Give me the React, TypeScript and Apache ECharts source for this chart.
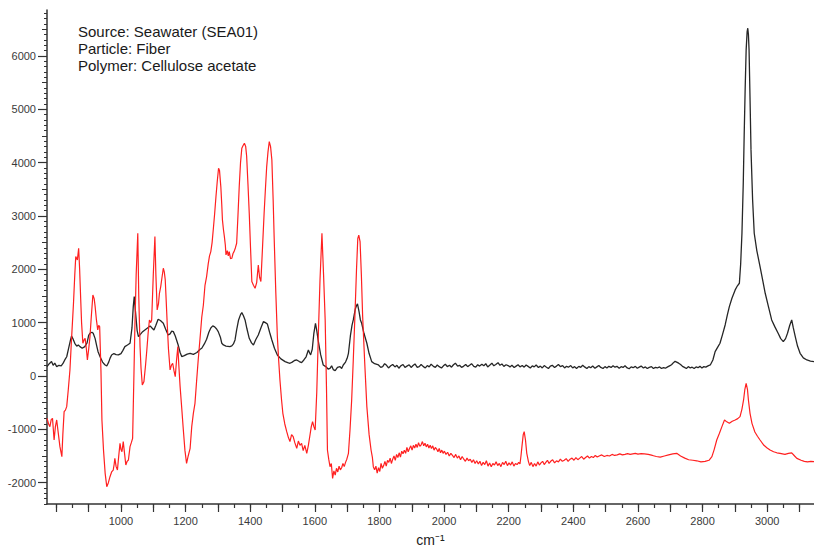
import React, { useEffect, useRef } from "react";
import * as echarts from "echarts";

// ---- Data ----
const annotationLines = [
  "Source: Seawater (SEA01)",
  "Particle: Fiber",
  "Polymer: Cellulose acetate",
];

const xAxisName = "cm\u207B\u00B9";
const xLabelValues = [1000, 1200, 1400, 1600, 1800, 2000, 2200, 2400, 2600, 2800, 3000];
const yLabelValues = [-2000, -1000, 0, 1000, 2000, 3000, 4000, 5000, 6000];

// black spectrum: [wavenumber, intensity]
const blackSpectrum: [number, number][] = [
  [771, 175], [778, 230], [785, 270], [790, 200], [795, 240], [801, 175], [808, 200], [815, 190],
  [821, 240], [826, 300], [832, 360], [838, 520], [844, 680], [847, 750], [851, 700], [857, 613],
  [863, 560], [868, 580], [873, 550], [880, 520], [888, 550], [895, 620], [900, 760], [904, 800],
  [910, 820], [914, 800], [920, 700], [925, 560], [929, 456], [936, 350], [943, 260], [950, 210],
  [956, 188], [962, 260], [966, 330], [971, 394], [978, 420], [985, 400], [992, 394], [1000, 420],
  [1006, 480], [1012, 550], [1020, 580], [1028, 613], [1034, 900], [1038, 1300], [1041, 1487],
  [1045, 1200], [1050, 850], [1054, 738], [1060, 780], [1067, 830], [1074, 863], [1082, 900],
  [1090, 938], [1096, 900], [1102, 863], [1108, 950], [1115, 1063], [1122, 1040], [1131, 988],
  [1138, 880], [1146, 769], [1152, 790], [1157, 840], [1162, 831], [1168, 750], [1177, 581],
  [1183, 440], [1188, 363], [1196, 380], [1205, 410], [1214, 425], [1224, 406], [1235, 440],
  [1245, 500], [1250, 519], [1258, 600], [1265, 688], [1272, 820], [1278, 900], [1284, 938],
  [1290, 920], [1296, 880], [1301, 831], [1308, 720], [1312, 613], [1317, 581], [1325, 560],
  [1337, 550], [1343, 563], [1348, 600], [1353, 675], [1358, 863], [1364, 1050], [1370, 1150],
  [1374, 1188], [1379, 1130], [1384, 1050], [1390, 880], [1397, 706], [1404, 620], [1410, 581],
  [1417, 680], [1425, 769], [1433, 900], [1441, 1019], [1447, 1000], [1453, 975], [1460, 820],
  [1467, 675], [1475, 520], [1484, 394], [1495, 320], [1508, 269], [1516, 250], [1523, 238],
  [1530, 260], [1537, 290], [1544, 300], [1552, 270], [1559, 250], [1566, 300], [1573, 360],
  [1580, 488], [1584, 430], [1587, 394], [1592, 500], [1597, 800], [1602, 988], [1606, 850],
  [1611, 644], [1618, 400], [1626, 206], [1635, 170], [1641, 130], [1647, 144], [1652, 190],
  [1657, 120], [1663, 100], [1670, 160], [1678, 175], [1683, 140], [1688, 206], [1695, 260],
  [1700, 330], [1704, 425], [1710, 750], [1715, 950], [1719, 1050], [1725, 1250], [1729, 1320],
  [1732, 1350], [1737, 1200], [1741, 1050], [1745, 988], [1752, 800], [1761, 613], [1768, 420],
  [1776, 269], [1785, 230], [1797, 206], [1804, 160], [1810, 175], [1816, 230], [1822, 200],
  [1828, 150], [1835, 190], [1841, 215], [1848, 170], [1854, 200], [1860, 145], [1866, 190],
  [1873, 215], [1879, 160], [1885, 185], [1892, 210], [1898, 160], [1904, 195], [1910, 225],
  [1917, 160], [1923, 175], [1929, 215], [1935, 180], [1942, 150], [1948, 195], [1954, 170],
  [1960, 220], [1967, 180], [1973, 160], [1979, 205], [1985, 175], [1992, 150], [1998, 190],
  [2004, 220], [2010, 175], [2017, 200], [2023, 165], [2029, 210], [2035, 240], [2042, 185],
  [2048, 200], [2054, 160], [2060, 180], [2067, 215], [2073, 175], [2079, 200], [2085, 230],
  [2092, 180], [2098, 165], [2104, 210], [2110, 185], [2117, 220], [2123, 190], [2129, 230],
  [2135, 170], [2142, 205], [2148, 240], [2154, 190], [2160, 215], [2167, 250], [2173, 200],
  [2179, 225], [2185, 180], [2192, 210], [2198, 195], [2204, 170], [2210, 200], [2217, 160],
  [2223, 185], [2229, 210], [2235, 170], [2242, 195], [2248, 165], [2254, 205], [2260, 180],
  [2267, 150], [2273, 190], [2279, 170], [2285, 205], [2292, 160], [2298, 185], [2304, 150],
  [2310, 195], [2317, 165], [2323, 140], [2329, 185], [2335, 200], [2342, 160], [2348, 185],
  [2354, 215], [2360, 175], [2367, 195], [2373, 150], [2379, 180], [2385, 165], [2392, 195],
  [2398, 150], [2404, 175], [2410, 140], [2417, 180], [2423, 160], [2429, 200], [2435, 170],
  [2442, 140], [2448, 175], [2454, 155], [2460, 185], [2467, 145], [2473, 170], [2479, 195],
  [2485, 160], [2492, 140], [2498, 175], [2504, 150], [2510, 180], [2517, 160], [2523, 190],
  [2529, 165], [2535, 180], [2542, 145], [2548, 175], [2554, 160], [2560, 190], [2567, 150],
  [2573, 135], [2579, 170], [2585, 155], [2592, 180], [2598, 145], [2604, 165], [2610, 185],
  [2617, 150], [2623, 170], [2629, 140], [2635, 160], [2642, 175], [2648, 140], [2654, 160],
  [2660, 150], [2667, 170], [2673, 140], [2679, 155], [2685, 145], [2692, 170], [2698, 190],
  [2704, 210], [2710, 250], [2715, 275], [2720, 260], [2726, 240], [2732, 215], [2738, 180],
  [2744, 160], [2750, 140], [2756, 175], [2762, 150], [2768, 165], [2774, 140], [2780, 170],
  [2786, 155], [2792, 180], [2798, 150], [2804, 175], [2810, 165], [2817, 190], [2824, 206],
  [2832, 300], [2839, 456], [2847, 540], [2854, 613], [2862, 780], [2870, 956], [2877, 1150],
  [2883, 1300], [2891, 1456], [2901, 1613], [2908, 1690], [2914, 1738], [2918, 2100], [2922, 2675],
  [2926, 3600], [2929, 4550], [2932, 5400], [2935, 6113], [2938, 6450], [2940, 6519], [2942, 6400],
  [2944, 6113], [2947, 5200], [2950, 4238], [2955, 3300], [2960, 2675], [2968, 2350], [2978, 2050],
  [2986, 1800], [2994, 1550], [3004, 1300], [3014, 1050], [3024, 920], [3034, 800], [3042, 700],
  [3050, 644], [3057, 700], [3063, 800], [3070, 950], [3076, 1050], [3081, 900], [3087, 738],
  [3094, 560], [3102, 425], [3112, 340], [3123, 300], [3134, 280], [3145, 269],
];

// red spectrum: [wavenumber, intensity]
const redSpectrum: [number, number][] = [
  [771, -794], [776, -900], [780, -950], [784, -820], [788, -794], [793, -1200], [797, -950],
  [801, -825], [806, -1075], [811, -1325], [817, -1513], [820, -1100], [824, -669], [828, -640],
  [832, -575], [837, -250], [842, 113], [847, 700], [853, 1363], [857, 1900], [860, 2238],
  [865, 2175], [869, 2394], [872, 2000], [875, 1488], [878, 1000], [882, 613], [886, 680],
  [889, 706], [893, 500], [896, 300], [900, 500], [904, 738], [908, 1100], [913, 1519],
  [917, 1450], [920, 1300], [924, 1050], [928, 863], [931, 950], [934, 925], [938, 100],
  [941, -825], [946, -1400], [951, -1825], [956, -2075], [961, -2000], [966, -1888], [971, -1800],
  [976, -1763], [979, -1650], [981, -1544], [985, -1700], [989, -1763], [993, -1500], [997, -1263],
  [1000, -1380], [1003, -1419], [1007, -1231], [1011, -1450], [1015, -1669], [1019, -1600],
  [1023, -1575], [1028, -1325], [1032, -1250], [1036, -1169], [1040, 0], [1043, 925], [1047, 1900],
  [1052, 2675], [1055, 1500], [1059, 550], [1062, 150], [1066, -169], [1071, -106], [1076, 200],
  [1080, 488], [1084, 800], [1088, 1050], [1092, 1000], [1095, 1050], [1100, 1900], [1105, 2613],
  [1108, 1900], [1112, 1238], [1116, 1350], [1119, 1550], [1123, 1675], [1127, 1850], [1131, 2019],
  [1134, 1950], [1137, 1800], [1140, 1400], [1143, 988], [1147, 500], [1152, 113], [1156, 200],
  [1160, 238], [1164, 100], [1168, -13], [1172, 300], [1176, 550], [1179, 200], [1183, -200],
  [1188, -600], [1193, -1013], [1198, -1400], [1203, -1638], [1208, -1500], [1214, -1356],
  [1219, -950], [1224, -700], [1229, -513], [1234, -100], [1239, 300], [1246, 800], [1250, 1100],
  [1255, 1331], [1260, 1700], [1265, 1863], [1270, 2100], [1274, 2250], [1278, 2331],
  [1282, 2500], [1286, 2769], [1290, 3050], [1294, 3363], [1298, 3650], [1302, 3894],
  [1305, 3850], [1309, 3550], [1312, 3200], [1314, 2925], [1317, 2750], [1320, 2613], [1323, 2450],
  [1325, 2269], [1329, 2350], [1332, 2250], [1335, 2331], [1339, 2200], [1343, 2206], [1347, 2300],
  [1350, 2331], [1354, 2400], [1358, 2488], [1362, 3000], [1366, 3550], [1370, 4000], [1374, 4269],
  [1378, 4320], [1382, 4363], [1386, 4300], [1389, 4113], [1393, 3600], [1397, 3050], [1401, 2400],
  [1405, 1769], [1410, 1700], [1415, 1644], [1420, 1750], [1425, 2081], [1429, 1850], [1433, 1769],
  [1438, 2400], [1443, 3050], [1447, 3500], [1451, 3925], [1455, 4200], [1459, 4394], [1463, 4300],
  [1467, 4050], [1471, 3300], [1474, 2613], [1479, 1600], [1484, 738], [1488, 300], [1492, -75],
  [1497, -450], [1501, -700], [1507, -900], [1513, -1044], [1518, -1150], [1523, -1231],
  [1528, -1100], [1533, -1138], [1538, -1250], [1544, -1356], [1549, -1220], [1554, -1300],
  [1559, -1263], [1564, -1400], [1569, -1300], [1575, -1450], [1580, -1300], [1585, -1106],
  [1589, -950], [1593, -856], [1597, -950], [1601, -1013], [1606, -300], [1611, 800], [1616, 1800],
  [1622, 2675], [1627, 1900], [1632, 1050], [1636, -200], [1639, -1388], [1643, -1560],
  [1647, -1700], [1651, -1640], [1655, -1919], [1659, -1780], [1663, -1860], [1667, -1731],
  [1671, -1800], [1675, -1690], [1679, -1760], [1683, -1720], [1687, -1638], [1691, -1700],
  [1695, -1620], [1699, -1560], [1704, -1450], [1709, -1000], [1714, -450], [1719, 300],
  [1724, 1113], [1729, 2000], [1733, 2580], [1736, 2640], [1740, 2520], [1744, 1900], [1748, 1113],
  [1754, 300], [1761, -575], [1768, -1100], [1774, -1388], [1778, -1520], [1781, -1700],
  [1785, -1760], [1789, -1690], [1793, -1820], [1797, -1720], [1801, -1790], [1805, -1640],
  [1809, -1730], [1813, -1680], [1817, -1600], [1821, -1690], [1825, -1580], [1829, -1620],
  [1833, -1540], [1837, -1640], [1841, -1560], [1845, -1500], [1849, -1580], [1853, -1470],
  [1857, -1530], [1861, -1440], [1865, -1520], [1869, -1410], [1873, -1460], [1877, -1390],
  [1881, -1450], [1885, -1340], [1889, -1420], [1893, -1360], [1897, -1310], [1901, -1390],
  [1905, -1300], [1909, -1350], [1913, -1280], [1917, -1340], [1921, -1250], [1925, -1320],
  [1929, -1290], [1933, -1230], [1937, -1310], [1941, -1260], [1945, -1330], [1949, -1280],
  [1953, -1350], [1957, -1300], [1961, -1360], [1965, -1310], [1969, -1390], [1973, -1340],
  [1977, -1370], [1981, -1420], [1985, -1360], [1989, -1440], [1993, -1390], [1997, -1450],
  [2001, -1410], [2006, -1470], [2011, -1430], [2016, -1500], [2021, -1450], [2026, -1490],
  [2031, -1530], [2036, -1470], [2041, -1540], [2046, -1500], [2051, -1570], [2056, -1510],
  [2061, -1560], [2066, -1600], [2071, -1540], [2076, -1590], [2081, -1560], [2086, -1620],
  [2091, -1570], [2096, -1640], [2101, -1590], [2106, -1650], [2111, -1600], [2116, -1680],
  [2121, -1620], [2126, -1660], [2131, -1590], [2136, -1690], [2141, -1630], [2146, -1700],
  [2151, -1640], [2156, -1670], [2161, -1610], [2166, -1680], [2171, -1640], [2176, -1700],
  [2181, -1620], [2186, -1660], [2191, -1600], [2196, -1680], [2201, -1630], [2206, -1670],
  [2211, -1610], [2216, -1690], [2221, -1640], [2226, -1660], [2231, -1620], [2235, -1650],
  [2238, -1500], [2241, -1325], [2245, -1100], [2248, -1044], [2252, -1200], [2256, -1450],
  [2261, -1600], [2265, -1680], [2270, -1620], [2275, -1700], [2280, -1640], [2285, -1690],
  [2290, -1610], [2295, -1670], [2300, -1630], [2305, -1600], [2310, -1660], [2315, -1620],
  [2320, -1580], [2325, -1640], [2330, -1600], [2336, -1570], [2342, -1630], [2348, -1590],
  [2354, -1610], [2360, -1560], [2366, -1600], [2372, -1580], [2378, -1550], [2384, -1600],
  [2390, -1560], [2396, -1540], [2402, -1580], [2408, -1530], [2414, -1570], [2420, -1540],
  [2426, -1510], [2432, -1560], [2438, -1530], [2444, -1500], [2450, -1540], [2456, -1510],
  [2462, -1530], [2468, -1490], [2474, -1520], [2480, -1500], [2488, -1480], [2496, -1510],
  [2504, -1490], [2512, -1500], [2520, -1470], [2528, -1490], [2536, -1480], [2544, -1460],
  [2552, -1480], [2560, -1470], [2568, -1455], [2576, -1470], [2584, -1460], [2592, -1450],
  [2600, -1465], [2610, -1455], [2620, -1460], [2632, -1470], [2645, -1490], [2657, -1510],
  [2669, -1520], [2682, -1500], [2695, -1480], [2708, -1460], [2720, -1450], [2732, -1500],
  [2745, -1540], [2757, -1570], [2770, -1580], [2782, -1590], [2795, -1610], [2808, -1600],
  [2820, -1580], [2829, -1513], [2836, -1380], [2844, -1200], [2852, -1080], [2860, -950],
  [2868, -825], [2875, -860], [2883, -888], [2892, -850], [2901, -825], [2909, -800], [2916, -763],
  [2922, -620], [2927, -450], [2931, -250], [2935, -138], [2939, -250], [2942, -450], [2947, -700],
  [2953, -888], [2962, -1050], [2970, -1130], [2978, -1200], [2990, -1300], [3000, -1350],
  [3009, -1388], [3020, -1420], [3030, -1440], [3040, -1450], [3055, -1470], [3066, -1450],
  [3076, -1440], [3085, -1500], [3092, -1544], [3105, -1580], [3115, -1600], [3125, -1610],
  [3135, -1600], [3145, -1606],
];

// axis tick positions
const range = (a: number, b: number, s: number) => {
  const out: number[] = [];
  for (let v = a; v <= b + 1e-9; v += s) out.push(v);
  return out;
};
const xTickShort = range(800, 3100, 50);
const xTickLong = range(800, 3100, 100);
const yTickShort = range(-2400, 6800, 100);
const yTickMid = range(-2000, 6500, 500);
const yTickLong = yLabelValues;

const X_MIN = 771;
const X_MAX = 3145;
const Y_MIN = -2400;
const Y_MAX = 6860;

const FONT = "'Liberation Sans', Arial, sans-serif";
const AXIS_COLOR = "#333333";

export default function App() {
  const ref = useRef<HTMLDivElement>(null);

  useEffect(() => {
    if (!ref.current) return;
    const chart = echarts.init(ref.current, undefined, { renderer: "svg" });

    const baseX = {
      type: "value" as const,
      min: X_MIN,
      max: X_MAX,
      position: "bottom" as const,
      splitLine: { show: false },
    };
    const baseY = {
      type: "value" as const,
      min: Y_MIN,
      max: Y_MAX,
      position: "left" as const,
      splitLine: { show: false },
    };

    chart.setOption({
      animation: false,
      backgroundColor: "#ffffff",
      textStyle: { fontFamily: FONT },
      grid: {
        left: 47,
        right: 0,
        top: 10,
        bottom: 46,
        containLabel: false,
        outerBoundsMode: "none",
      },
      xAxis: [
        {
          ...baseX,
          name: xAxisName,
          nameLocation: "middle",
          nameGap: 29,
          nameTextStyle: { fontFamily: FONT, fontSize: 14, color: "#222" },
          axisLine: { show: true, onZero: false, lineStyle: { color: AXIS_COLOR, width: 1.5 } },
          axisTick: {
            show: true,
            length: 4,
            customValues: xTickShort,
            lineStyle: { color: AXIS_COLOR, width: 1.2 },
          },
          axisLabel: {
            show: true,
            customValues: xLabelValues,
            margin: 11,
            fontFamily: FONT,
            fontSize: 11,
            color: "#3a3a3a",
            formatter: (v: number) => String(v),
          },
        },
        {
          ...baseX,
          axisLine: { show: false, onZero: false },
          axisTick: {
            show: true,
            length: 8,
            customValues: xTickLong,
            lineStyle: { color: AXIS_COLOR, width: 1.2 },
          },
          axisLabel: { show: false },
        },
      ],
      yAxis: [
        {
          ...baseY,
          axisLine: { show: true, onZero: false, lineStyle: { color: AXIS_COLOR, width: 1.5 } },
          axisTick: {
            show: true,
            length: 3,
            customValues: yTickShort,
            lineStyle: { color: AXIS_COLOR, width: 1 },
          },
          axisLabel: {
            show: true,
            customValues: yLabelValues,
            margin: 11,
            fontFamily: FONT,
            fontSize: 11,
            color: "#3a3a3a",
            formatter: (v: number) => String(v),
          },
        },
        {
          ...baseY,
          axisLine: { show: false, onZero: false },
          axisTick: {
            show: true,
            length: 5,
            customValues: yTickMid,
            lineStyle: { color: AXIS_COLOR, width: 1 },
          },
          axisLabel: { show: false },
        },
        {
          ...baseY,
          axisLine: { show: false, onZero: false },
          axisTick: {
            show: true,
            length: 9,
            customValues: yTickLong,
            lineStyle: { color: AXIS_COLOR, width: 1.2 },
          },
          axisLabel: { show: false },
        },
      ],
      graphic: [
        {
          type: "text",
          left: 78,
          top: 23,
          silent: true,
          style: {
            text: annotationLines.join("\n"),
            fontFamily: FONT,
            fontSize: 15,
            lineHeight: 17,
            fill: "#1a1a1a",
          },
        },
      ],
      series: [
        {
          name: "black",
          type: "line",
          xAxisIndex: 0,
          yAxisIndex: 0,
          data: blackSpectrum,
          showSymbol: false,
          symbol: "none",
          silent: true,
          lineStyle: { color: "#262626", width: 1.3 },
          z: 2,
        },
        {
          name: "red",
          type: "line",
          xAxisIndex: 0,
          yAxisIndex: 0,
          data: redSpectrum,
          showSymbol: false,
          symbol: "none",
          silent: true,
          lineStyle: { color: "#ff2020", width: 1.2 },
          z: 3,
        },
      ],
    });

    return () => chart.dispose();
  }, []);

  return (
    <div
      ref={ref}
      style={{ width: 814, height: 550, position: "absolute", left: 0, top: 0 }}
    />
  );
}
